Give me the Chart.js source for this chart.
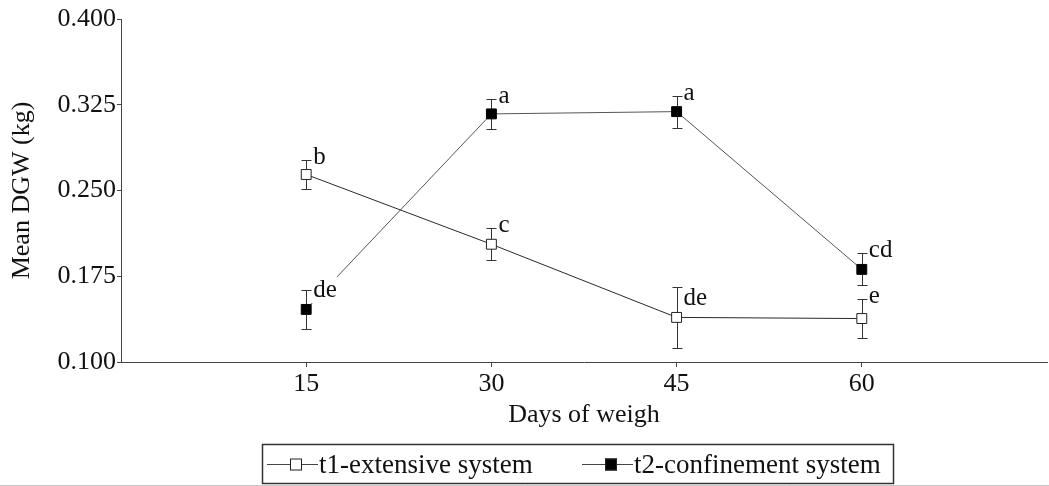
<!DOCTYPE html>
<html>
<head>
<meta charset="utf-8">
<title>Mean DGW by days of weigh</title>
<script src="https://cdn.jsdelivr.net/npm/chart.js@4.4.1/dist/chart.umd.min.js"></script>
<style>
  html, body { margin: 0; padding: 0; background: #fff; overflow: hidden; }
  #wrap { width: 1049px; height: 486px; position: relative; }
  canvas { display: block; }
</style>
</head>
<body>
<div id="wrap"><canvas id="c" width="1049" height="486"></canvas></div>
<script>
// Weighing days and y-axis ticks
const days = [15, 30, 45, 60];
const yTicks = [0.100, 0.175, 0.250, 0.325, 0.400];
const seriesNames = ['t1-extensive system', 't2-confinement system'];

// t1: extensive system (mean, standard error, significance letters)
const t1Mean = [0.264, 0.203, 0.139, 0.138];
const t1Err = [0.013, 0.014, 0.027, 0.017];
const t1Letters = ['b', 'c', 'de', 'e'];

// t2: confinement system
const t2Mean = [0.146, 0.317, 0.319, 0.181];
const t2Err = [0.017, 0.013, 0.014, 0.014];
const t2Letters = ['de', 'a', 'a', 'cd'];

const FONT = 'Liberation Serif, "Times New Roman", serif';
const INK = '#111';
const AXIS = '#444';

const pts = (vals) => days.map((d, i) => ({ x: d, y: vals[i] }));

// Error bars and letters are drawn between the connecting lines and the markers,
// so each letter's white backing hides the line running under it.
const annotations = {
  id: 'annotations',
  beforeDatasetsDraw(chart) { chart.$annotDone = false; },
  beforeDatasetDraw(chart, args) {
    const ds = chart.data.datasets[args.index];
    if (!ds.marker || chart.$annotDone) return;
    chart.$annotDone = true;
    const ctx = chart.ctx;
    const xs = chart.scales.x, ys = chart.scales.y;
    const markerSets = chart.data.datasets.filter(d => d.marker);
    ctx.save();
    ctx.font = '25px ' + FONT;
    ctx.textBaseline = 'alphabetic';
    ctx.textAlign = 'left';
    // letters with white backing
    markerSets.forEach(set => {
      set.means.forEach((m, i) => {
        const px = xs.getPixelForValue(days[i]);
        const capTop = ys.getPixelForValue(m + set.errs[i]);
        const base = capTop + 4 + (set.nudge[i] || 0);
        const tx = px + 7;
        const w = ctx.measureText(set.letters[i]).width;
        ctx.fillStyle = '#fff';
        ctx.fillRect(tx - 3, base - 20, w + 6, 26);
        ctx.fillStyle = INK;
        ctx.fillText(set.letters[i], tx, base);
      });
    });
    // error bars
    ctx.strokeStyle = '#333';
    ctx.lineWidth = 1;
    markerSets.forEach(set => {
      set.means.forEach((m, i) => {
        const px = Math.round(xs.getPixelForValue(days[i])) + 0.5;
        const top = Math.round(ys.getPixelForValue(m + set.errs[i])) + 0.5;
        const bot = Math.round(ys.getPixelForValue(m - set.errs[i])) + 0.5;
        ctx.beginPath();
        ctx.moveTo(px, top); ctx.lineTo(px, bot);
        ctx.moveTo(px - 5, top); ctx.lineTo(px + 5, top);
        ctx.moveTo(px - 5, bot); ctx.lineTo(px + 5, bot);
        ctx.stroke();
      });
    });
    ctx.restore();
  }
};

// Boxed legend under the axis title
const boxedLegend = {
  id: 'boxedLegend',
  afterDraw(chart) {
    const ctx = chart.ctx;
    ctx.save();
    // frame edge line
    ctx.strokeStyle = '#c8c8c8';
    ctx.lineWidth = 1;
    ctx.beginPath(); ctx.moveTo(0, 485.5); ctx.lineTo(1049, 485.5); ctx.stroke();
    // legend box
    ctx.fillStyle = '#fff';
    ctx.fillRect(262.5, 444.5, 631, 39);
    ctx.strokeStyle = '#333';
    ctx.lineWidth = 1.5;
    ctx.strokeRect(262.5, 444.5, 631, 39);
    const cy = 464.5;
    const items = [
      { x0: 267, fill: '#fff', text: seriesNames[0] },
      { x0: 582, fill: '#000', text: seriesNames[1] }
    ];
    items.forEach(it => {
      ctx.strokeStyle = '#444';
      ctx.lineWidth = 1;
      ctx.beginPath(); ctx.moveTo(it.x0, cy); ctx.lineTo(it.x0 + 51, cy); ctx.stroke();
      ctx.fillStyle = it.fill;
      ctx.fillRect(it.x0 + 23, cy - 6, 12, 12);
      ctx.strokeStyle = '#222';
      ctx.strokeRect(it.x0 + 23.5, cy - 5.5, 11, 11);
      ctx.fillStyle = INK;
      ctx.font = '27px ' + FONT;
      ctx.textBaseline = 'middle';
      ctx.fillText(it.text, it.x0 + 52, cy + 1);
    });
    ctx.restore();
  }
};

new Chart(document.getElementById('c'), {
  type: 'line',
  data: {
    datasets: [
      { label: seriesNames[0], data: pts(t1Mean), borderColor: '#2a2a2a', borderWidth: 1,
        pointRadius: 0, tension: 0, fill: false, order: 3 },
      { label: seriesNames[1], data: pts(t2Mean), borderColor: '#555', borderWidth: 1,
        pointRadius: 0, tension: 0, fill: false, order: 3 },
      { label: seriesNames[0], data: pts(t1Mean), showLine: false, pointStyle: 'rect',
        pointRadius: 7, pointBackgroundColor: '#fff', pointBorderColor: '#222', pointBorderWidth: 1,
        order: 1, marker: true, means: t1Mean, errs: t1Err, letters: t1Letters, nudge: [0, 0, 14, 0] },
      { label: seriesNames[1], data: pts(t2Mean), showLine: false, pointStyle: 'rect',
        pointRadius: 7, pointBackgroundColor: '#000', pointBorderColor: '#000', pointBorderWidth: 1,
        order: 1, marker: true, means: t2Mean, errs: t2Err, letters: t2Letters, nudge: [3, 0, 0, 0] }
    ]
  },
  options: {
    responsive: false,
    animation: false,
    devicePixelRatio: 1,
    layout: { autoPadding: false, padding: { top: 19, right: 2, bottom: 53, left: 0 } },
    plugins: { legend: { display: false }, tooltip: { enabled: false } },
    scales: {
      x: {
        type: 'linear', min: 0, max: 75,
        afterBuildTicks: s => { s.ticks = days.map(v => ({ value: v })); },
        afterFit: s => { s.height = 71; s.paddingRight = 0; },
        grid: { display: true, drawOnChartArea: false, drawTicks: true, tickLength: 5, color: AXIS },
        border: { display: true, color: AXIS, width: 1 },
        ticks: { font: { family: FONT, size: 26 }, color: INK, padding: 2, maxRotation: 0, autoSkip: false },
        title: { display: true, text: 'Days of weigh', font: { family: FONT, size: 26 }, color: INK,
                 padding: { top: 0, bottom: 2 } }
      },
      y: {
        type: 'linear', min: 0.1, max: 0.4,
        afterBuildTicks: s => { s.ticks = yTicks.map(v => ({ value: v })); },
        afterFit: s => { s.width = 121; },
        grid: { display: true, drawOnChartArea: false, drawTicks: true, tickLength: 4, color: AXIS },
        border: { display: true, color: AXIS, width: 1 },
        ticks: { font: { family: FONT, size: 26 }, color: INK, padding: 1,
                 callback: v => Number(v).toFixed(3) },
        title: { display: true, text: 'Mean DGW (kg)', font: { family: FONT, size: 26 }, color: INK,
                 padding: { top: 7, bottom: 0 } }
      }
    }
  },
  plugins: [annotations, boxedLegend]
});
</script>
</body>
</html>
